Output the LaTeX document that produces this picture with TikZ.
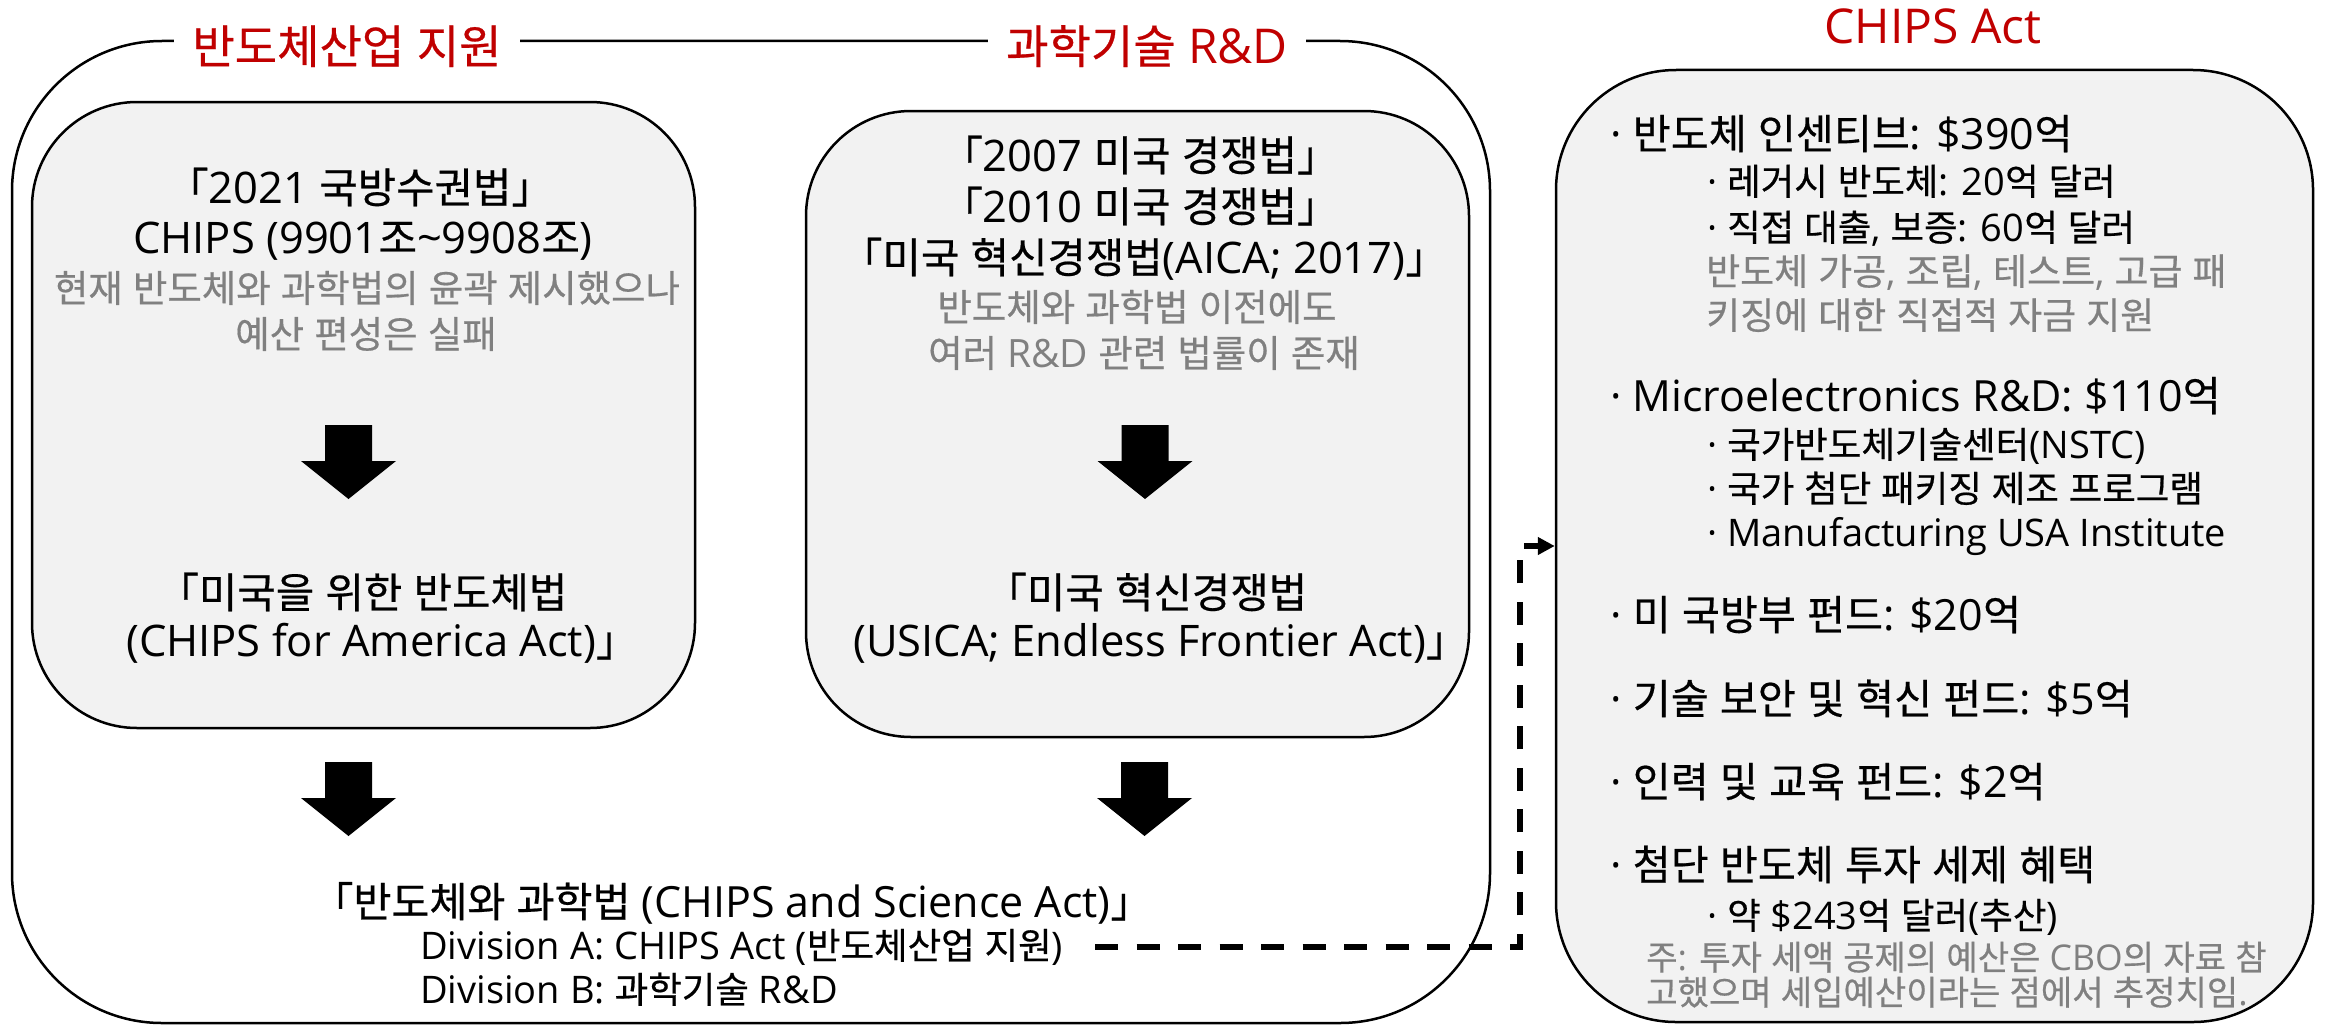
\documentclass[tikz,border=0pt]{standalone}
\usepackage{fontspec}
\setmainfont{Open Sans}
\newfontfamily\krfont[Scale=0.96,FakeBold=0.5]{Noto Sans CJK KR}
\usetikzlibrary{arrows.meta,calc}
% automatic switch to the Korean font for Hangul syllables and CJK brackets
\XeTeXinterchartokenstate=1
\newXeTeXintercharclass\HangulClass
\newcount\hgcnt
\hgcnt="AC00
\loop
  \XeTeXcharclass\hgcnt=\HangulClass
  \ifnum\hgcnt<"D7A3
  \advance\hgcnt by 1
\repeat
\XeTeXcharclass"300C=\HangulClass
\XeTeXcharclass"300D=\HangulClass
\XeTeXinterchartoks 0 \HangulClass={\begingroup\krfont}
\XeTeXinterchartoks 4095 \HangulClass={\begingroup\krfont}
\XeTeXinterchartoks \HangulClass 0={\endgroup}
\XeTeXinterchartoks \HangulClass 4095={\endgroup}

\definecolor{titlered}{HTML}{C00000}
\definecolor{txtgrey}{HTML}{808080}
\definecolor{boxfill}{HTML}{F2F2F2}

\tikzset{
  panel/.style={draw=black, line width=2.5pt, fill=boxfill, inner sep=0pt},
  ttl/.style={text=titlered, font=\fontsize{48}{56}\selectfont, fill=white, inner xsep=18pt, inner ysep=8pt, anchor=base},
  blk/.style={font=\fontsize{43.5}{50}\selectfont, inner sep=0pt, anchor=base},
  gry/.style={text=txtgrey, font=\fontsize{39}{46}\selectfont, inner sep=0pt, anchor=base},
  mainb/.style={font=\fontsize{43}{50}\selectfont, inner sep=0pt, anchor=base west},
  subb/.style={font=\fontsize{38}{44}\selectfont, inner sep=0pt, anchor=base west},
  subg/.style={text=txtgrey, font=\fontsize{38.5}{45}\selectfont, inner sep=0pt, anchor=base west},
  notet/.style={text=txtgrey, font=\fontsize{35.5}{42}\selectfont, inner sep=0pt, anchor=base west},
  botbig/.style={font=\fontsize{43}{50}\selectfont, inner sep=0pt, anchor=base west},
  botsmall/.style={font=\fontsize{38}{45}\selectfont, inner sep=0pt, anchor=base west},
  dashconn/.style={line width=6pt, dash pattern=on 23pt off 18.5pt, -{Triangle[length=17pt,width=17pt]}},
  blockarrow/.pic={\fill[black] (-23.5,0) -- (23.5,0) -- (23.5,36) -- (47.5,36) -- (0,74) -- (-47.5,36) -- (-23.5,36) -- cycle;}
}

\begin{document}
\begin{tikzpicture}[x=1pt,y=-1pt]
\fill[white] (0,0) rectangle (2328,1025);
\useasboundingbox (0,0) rectangle (2328,1025);

% outer frame
\node[draw=black, line width=2.5pt, rounded corners=150pt, minimum width=1478pt, minimum height=982pt, inner sep=0pt] (outer) at (751,532) {};
\node[ttl] (t1) at (347,63.5) {반도체산업 지원};
\node[ttl] (t2) at (1147,63.5) {과학기술 R\&D};
\node[ttl] (t3) at (1933,44) {CHIPS Act};

% inner panels
\node[panel, rounded corners=105pt, minimum width=663pt, minimum height=626pt] (p1) at (363.5,415) {};
\node[panel, rounded corners=105pt, minimum width=663pt, minimum height=626pt] (p2) at (1137.5,424) {};
\node[panel, rounded corners=120pt, minimum width=757pt, minimum height=952pt] (rbox) at (1934.5,546) {};

% left panel text
\node[blk] (l1) at (360,203) {「2021 국방수권법」};
\node[blk] (l2) at (363,253) {CHIPS (9901조\textasciitilde 9908조)};
\node[gry] (l3) at (367,302) {현재 반도체와 과학법의 윤곽 제시했으나};
\node[gry] (l4) at (366,348) {예산 편성은 실패};
\node[blk, anchor=base west] (l5) at (157,608) {「미국을 위한 반도체법};
\node[blk, anchor=base west] (l6) at (126,656) {(CHIPS for America Act)」};

% middle panel text
\node[blk] (m1) at (1140,171) {「2007 미국 경쟁법」};
\node[blk] (m2) at (1140,222) {「2010 미국 경쟁법」};
\node[blk] (m3) at (1144,273) {「미국 혁신경쟁법(AICA; 2017)」};
\node[gry] (m4) at (1137,321) {반도체와 과학법 이전에도};
\node[gry] (m5) at (1144,367) {여러 R\&D 관련 법률이 존재};
\node[blk, anchor=base west] (m6) at (985,608) {「미국 혁신경쟁법};
\node[blk, anchor=base east] (m7) at (1468,656) {(USICA; Endless Frontier Act)」};

% block arrows
\pic at (348.5,425) {blockarrow};
\pic at (1145,425) {blockarrow};
\pic at (348.5,762) {blockarrow};
\pic at (1144.5,762) {blockarrow};

% bottom text
\node[botbig] (o1) at (312,917) {「반도체와 과학법 (CHIPS and Science Act)」};
\node[botsmall] (o2) at (420,959) {Division A: CHIPS Act (반도체산업 지원)};
\node[botsmall] (o3) at (420,1003) {Division B: 과학기술 R\&D};

% right panel text
\node[mainb] (b1) at (1610,149) {· 반도체 인센티브: \$390억};
\node[subb] (s1) at (1707,195) {· 레거시 반도체: 20억 달러};
\node[subb] (s2) at (1707,241) {· 직접 대출, 보증: 60억 달러};
\node[subg] (g1) at (1706,285) {반도체 가공, 조립, 테스트, 고급 패};
\node[subg] (g2) at (1706,329) {키징에 대한 직접적 자금 지원};
\node[mainb] (b2) at (1610,411) {· Microelectronics R\&D: \$110억};
\node[subb] (s3) at (1707,458) {· 국가반도체기술센터(NSTC)};
\node[subb] (s4) at (1707,502) {· 국가 첨단 패키징 제조 프로그램};
\node[subb] (s5) at (1707,546) {· Manufacturing USA Institute};
\node[mainb] (b3) at (1610,630) {· 미 국방부 펀드: \$20억};
\node[mainb] (b4) at (1610,714) {· 기술 보안 및 혁신 펀드: \$5억};
\node[mainb] (b5) at (1610,797) {· 인력 및 교육 펀드: \$2억};
\node[mainb] (b6) at (1610,880) {· 첨단 반도체 투자 세제 혜택};
\node[subb] (s6) at (1707,929) {· 약 \$243억 달러(추산)};
\node[notet] (n1) at (1646,970) {주: 투자 세액 공제의 예산은 CBO의 자료 참};
\node[notet] (n2) at (1646,1005) {고했으며 세입예산이라는 점에서 추정치임.};

% dashed connector
\coordinate (dstart) at ($(o2.base east)+(32,-12)$);
\coordinate (vx) at (1520,0);
\draw[dashconn] (dstart) -- (dstart -| vx) |- (rbox.west);
\end{tikzpicture}
\end{document}
